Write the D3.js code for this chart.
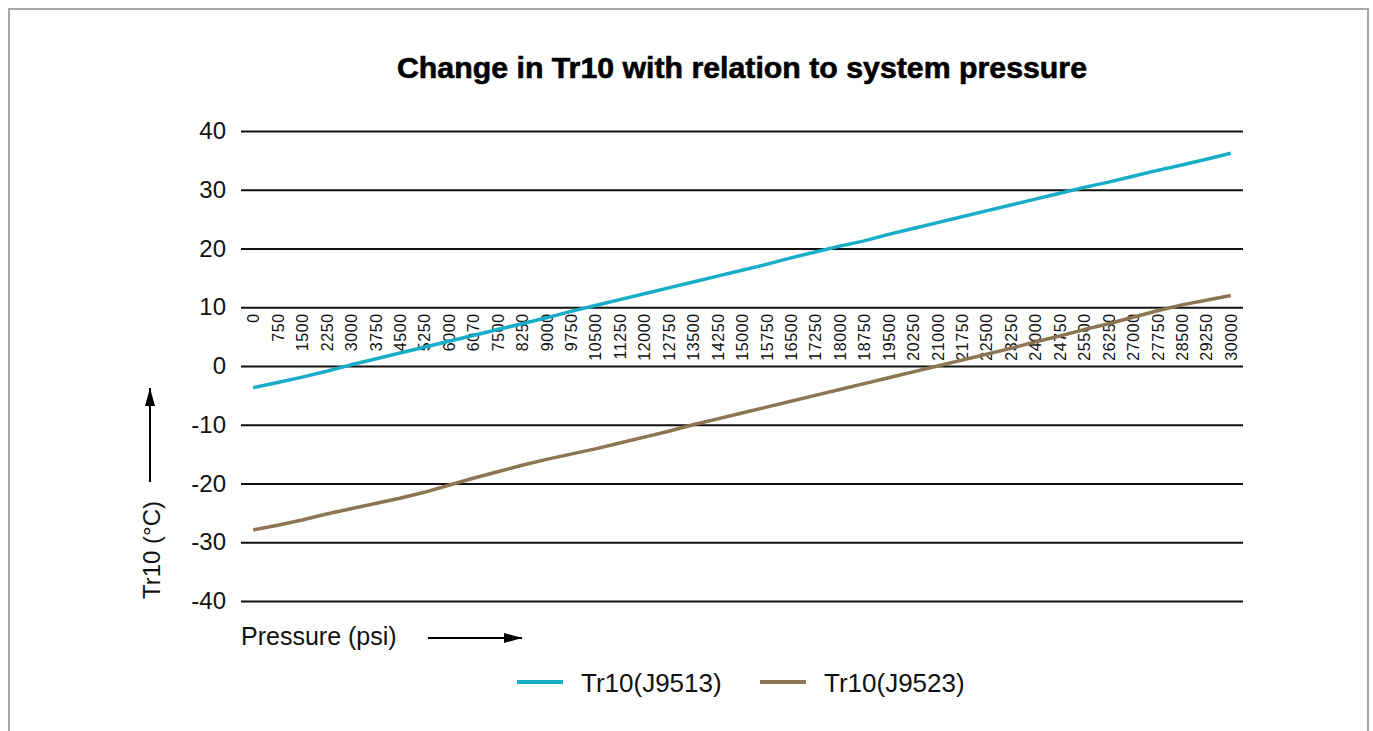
<!DOCTYPE html>
<html>
<head>
<meta charset="utf-8">
<script src="https://cdn.jsdelivr.net/npm/d3@7"></script>
<style>
  html, body { margin: 0; padding: 0; background: #fff; }
  svg { display: block; }
</style>
</head>
<body>
<svg id="chart" width="1373" height="731"></svg>
<script>
// ---- data ----
const categories = ["0","750","1500","2250","3000","3750","4500","5250","6000","6070","7500","8250","9000","9750","10500","11250","12000","12750","13500","14250","15000","15750","16500","17250","18000","18750","19500","20250","21000","21750","22500","23250","24000","24750","25500","26250","27000","27750","28500","29250","30000"];
const seriesJ9513 = [-3.7,-2.8,-1.9,-0.9,0.2,1.2,2.2,3.2,4.2,5.2,6.2,7.2,8.2,9.3,10.3,11.3,12.3,13.3,14.3,15.3,16.3,17.3,18.4,19.4,20.4,21.3,22.4,23.4,24.4,25.4,26.4,27.4,28.4,29.4,30.4,31.3,32.3,33.3,34.2,35.2,36.2];
const seriesJ9523 = [-27.9,-27.1,-26.2,-25.2,-24.3,-23.4,-22.5,-21.5,-20.3,-19.1,-18.0,-16.9,-15.9,-15.0,-14.1,-13.1,-12.1,-11.1,-10.0,-9.0,-8.0,-7.0,-6.0,-5.0,-4.0,-3.0,-2.0,-1.0,0.0,1.0,2.0,3.0,4.1,5.1,6.2,7.2,8.3,9.4,10.4,11.2,12.0];
const yTicks = [-40,-30,-20,-10,0,10,20,30,40];
const seriesNames = ["Tr10(J9513)", "Tr10(J9523)"];
const seriesColors = ["#17adc9", "#8c7553"];
const titleText = "Change in Tr10 with relation to system pressure";
const yTitle = "Tr10 (°C)";
const xTitle = "Pressure (psi)";

// ---- layout ----
const svg = d3.select("#chart");
const plot = { left: 241, right: 1243, top: 131, bottom: 601 };
const x = d3.scalePoint().domain(categories).range([plot.left, plot.right]).padding(0.5);
const y = d3.scaleLinear().domain([-40, 40]).range([plot.bottom, plot.top]);

// frame
svg.append("rect")
  .attr("x", 9).attr("y", 9).attr("width", 1359).attr("height", 760)
  .attr("fill", "none").attr("stroke", "#a6a6a6").attr("stroke-width", 2);

// title
svg.append("text")
  .attr("x", 742).attr("y", 78)
  .attr("text-anchor", "middle")
  .attr("font-family", "'Liberation Sans Narrow', 'Liberation Sans', Arial, sans-serif")
  .attr("font-weight", "900")
  .attr("font-size", 29)
  .attr("stroke", "#000").attr("stroke-width", 0.6)
  .attr("textLength", 690).attr("lengthAdjust", "spacingAndGlyphs")
  .attr("fill", "#000")
  .text(titleText);

// y axis with gridlines
const yAxis = d3.axisLeft(y).tickValues(yTicks).tickSize(-(plot.right - plot.left)).tickPadding(15).tickFormat(d => String(d));
const yg = svg.append("g").attr("transform", `translate(${plot.left},0)`).call(yAxis);
yg.select(".domain").remove();
yg.selectAll(".tick line").attr("stroke", "#111").attr("stroke-width", 2);
yg.selectAll(".tick text")
  .attr("font-family", "'Liberation Sans', Arial, sans-serif")
  .attr("font-size", 24).attr("fill", "#111");

// category labels (rotated, hanging below the 10 gridline)
const xAxis = d3.axisBottom(x).tickSize(0).tickPadding(0);
const xg = svg.append("g").attr("transform", `translate(0,${y(10) + 6})`).call(xAxis);
xg.select(".domain").remove();
xg.selectAll(".tick text")
  .attr("font-family", "'Liberation Sans', Arial, sans-serif")
  .attr("font-size", 16).attr("fill", "#111")
  .attr("letter-spacing", 0.6)
  .attr("text-anchor", "end")
  .attr("transform", "rotate(-90)")
  .attr("x", 0).attr("y", 0).attr("dy", "0.35em");

// lines
const line = d3.line().x((d, i) => x(categories[i])).y(d => y(d));
[seriesJ9513, seriesJ9523].forEach((s, k) => {
  svg.append("path").datum(s)
    .attr("d", line)
    .attr("fill", "none")
    .attr("stroke", seriesColors[k])
    .attr("stroke-width", 3.5)
    .attr("stroke-linejoin", "round")
    .attr("stroke-linecap", "butt");
});

// arrow marker
const defs = svg.append("defs");
defs.append("marker").attr("id", "arrow")
  .attr("viewBox", "0 0 18 10").attr("refX", 18).attr("refY", 5)
  .attr("markerWidth", 18).attr("markerHeight", 10)
  .attr("markerUnits", "userSpaceOnUse").attr("orient", "auto")
  .append("path").attr("d", "M0,0 L18,5 L0,10 Z").attr("fill", "#000");

// y title + arrow
svg.append("text")
  .attr("transform", "translate(160,550) rotate(-90)")
  .attr("text-anchor", "middle")
  .attr("font-family", "'Liberation Sans', Arial, sans-serif")
  .attr("font-size", 24).attr("fill", "#111")
  .text(yTitle);
svg.append("line")
  .attr("x1", 150).attr("y1", 482).attr("x2", 150).attr("y2", 388)
  .attr("stroke", "#000").attr("stroke-width", 2)
  .attr("marker-end", "url(#arrow)");

// x title + arrow
svg.append("text")
  .attr("x", 241).attr("y", 645)
  .attr("font-family", "'Liberation Sans', Arial, sans-serif")
  .attr("font-size", 25).attr("fill", "#111")
  .text(xTitle);
svg.append("line")
  .attr("x1", 428).attr("y1", 638).attr("x2", 522).attr("y2", 638)
  .attr("stroke", "#000").attr("stroke-width", 2)
  .attr("marker-end", "url(#arrow)");

// legend
const legendX = [517, 760];
seriesNames.forEach((name, k) => {
  const g = svg.append("g").attr("transform", `translate(${legendX[k]},682)`);
  g.append("line").attr("x1", 0).attr("x2", 46).attr("y1", 0).attr("y2", 0)
    .attr("stroke", seriesColors[k]).attr("stroke-width", 4);
  g.append("text").attr("x", 64).attr("y", 10)
    .attr("font-family", "'Liberation Sans', Arial, sans-serif")
    .attr("font-size", 26).attr("fill", "#111")
    .text(name);
});
</script>
</body>
</html>
